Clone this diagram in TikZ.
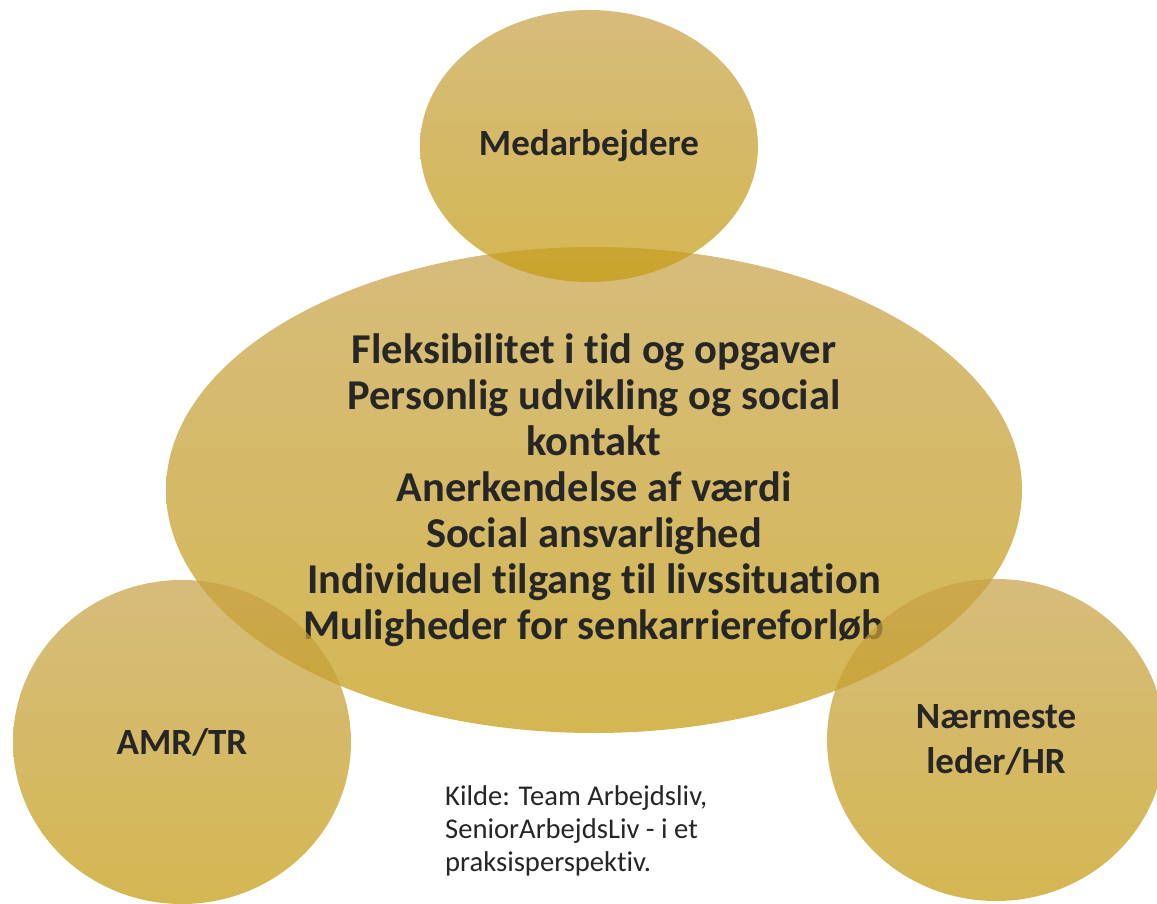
\documentclass[tikz,border=0pt]{standalone}
\usepackage{fontspec}
\setmainfont{Carlito}[Ligatures=NoCommon]
\usetikzlibrary{shapes.geometric}
\definecolor{goldtop}{RGB}{200,162,72}
\definecolor{goldbot}{RGB}{196,156,16}
\definecolor{txt}{RGB}{38,38,38}
\tikzset{
  bubble/.style={ellipse, inner sep=0pt, top color=goldtop, bottom color=goldbot,
    fill opacity=0.72, draw=none, text opacity=1, text=txt, align=center,
    font=\bfseries\fontsize{37}{45}\selectfont},
  bigtext/.style={font=\bfseries\fontsize{42.5}{46}\selectfont},
  note/.style={text=txt, align=left, anchor=north west, inner sep=0pt,
    font=\fontsize{28.6}{33}\selectfont}
}
\begin{document}
\begin{tikzpicture}[x=1pt,y=-1pt]
\useasboundingbox (0,0) rectangle (1157,904);
\fill[white] (0,0) rectangle (1157,904);
\node[bubble, bigtext, minimum width=856, minimum height=486] (centre) at (594,490)
  {Fleksibilitet i tid og opgaver\\Personlig udvikling og social\\kontakt\\Anerkendelse af værdi\\Social ansvarlighed\\Individuel tilgang til livssituation\\Muligheder for senkarriereforløb};
\node[bubble, minimum width=338, minimum height=272] (top) at (589,146) {Medarbejdere};
\node[bubble, minimum width=338, minimum height=324] (left) at (182,742) {AMR/TR};
\node[bubble, minimum width=338, minimum height=322] (right) at (996,740) {Nærmeste\\leder/HR};
\node[note] (src) at (445,785) {Kilde: Team Arbejdsliv,\\SeniorArbejdsLiv - i et\\praksisperspektiv.};
\end{tikzpicture}
\end{document}
